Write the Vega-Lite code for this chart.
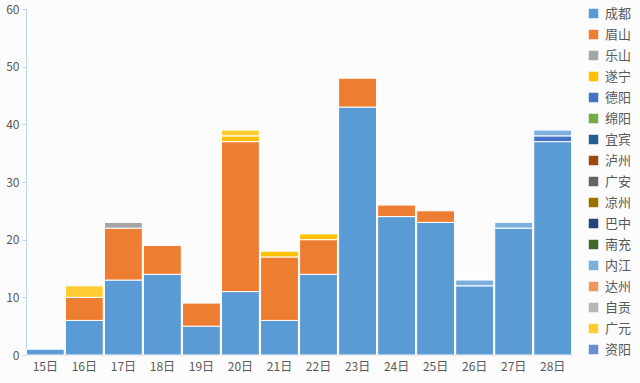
{
  "$schema": "https://vega.github.io/schema/vega-lite/v6.json",
  "width": 546,
  "height": 346,
  "autosize": "none",
  "padding": {"left": 26, "top": 9, "right": 68, "bottom": 28},
  "background": "#FCFCFC",
  "config": {"view": {"stroke": null}, "font": "Noto Sans CJK SC"},
  "data": {"values": [
    {"day": "15日", "city": "成都", "n": 1},
    {"day": "16日", "city": "成都", "n": 6},
    {"day": "16日", "city": "眉山", "n": 4},
    {"day": "16日", "city": "广元", "n": 2},
    {"day": "17日", "city": "成都", "n": 13},
    {"day": "17日", "city": "眉山", "n": 9},
    {"day": "17日", "city": "乐山", "n": 1},
    {"day": "18日", "city": "成都", "n": 14},
    {"day": "18日", "city": "眉山", "n": 5},
    {"day": "19日", "city": "成都", "n": 5},
    {"day": "19日", "city": "眉山", "n": 4},
    {"day": "20日", "city": "成都", "n": 11},
    {"day": "20日", "city": "眉山", "n": 26},
    {"day": "20日", "city": "遂宁", "n": 1},
    {"day": "20日", "city": "广元", "n": 1},
    {"day": "21日", "city": "成都", "n": 6},
    {"day": "21日", "city": "眉山", "n": 11},
    {"day": "21日", "city": "遂宁", "n": 1},
    {"day": "22日", "city": "成都", "n": 14},
    {"day": "22日", "city": "眉山", "n": 6},
    {"day": "22日", "city": "遂宁", "n": 1},
    {"day": "23日", "city": "成都", "n": 43},
    {"day": "23日", "city": "眉山", "n": 5},
    {"day": "24日", "city": "成都", "n": 24},
    {"day": "24日", "city": "眉山", "n": 2},
    {"day": "25日", "city": "成都", "n": 23},
    {"day": "25日", "city": "眉山", "n": 2},
    {"day": "26日", "city": "成都", "n": 12},
    {"day": "26日", "city": "内江", "n": 1},
    {"day": "27日", "city": "成都", "n": 22},
    {"day": "27日", "city": "内江", "n": 1},
    {"day": "28日", "city": "成都", "n": 37},
    {"day": "28日", "city": "德阳", "n": 1},
    {"day": "28日", "city": "内江", "n": 1}
  ]},
  "transform": [
    {"calculate": "indexof(['成都','眉山','乐山','遂宁','德阳','绵阳','宜宾','泸州','广安','凉州','巴中','南充','内江','达州','自贡','广元','资阳'], datum.city)", "as": "k"}
  ],
  "mark": {"type": "bar", "stroke": "#FFFFFF", "strokeWidth": 1},
  "encoding": {
    "x": {
      "field": "day", "type": "nominal", "title": null,
      "scale": {"paddingInner": 0.03, "paddingOuter": 0.01},
      "axis": {"labelAngle": 0, "ticks": false, "domainColor": "#D9D9D9", "labelColor": "#595959", "labelFontSize": 12, "labelPadding": 6}
    },
    "y": {
      "field": "n", "type": "quantitative", "aggregate": "sum", "stack": "zero", "title": null,
      "scale": {"domain": [0, 60]},
      "axis": {"values": [0, 10, 20, 30, 40, 50, 60], "grid": false, "domainColor": "#BDD7EE", "tickColor": "#BDD7EE", "tickSize": 4, "labelColor": "#595959", "labelFontSize": 12, "labelPadding": 3}
    },
    "order": {"field": "k", "type": "quantitative"},
    "color": {
      "field": "city", "type": "nominal",
      "scale": {
        "domain": ["成都","眉山","乐山","遂宁","德阳","绵阳","宜宾","泸州","广安","凉州","巴中","南充","内江","达州","自贡","广元","资阳"],
        "range": ["#5B9BD5","#ED7D31","#A5A5A5","#FFC000","#4472C4","#70AD47","#255E91","#9E480E","#636363","#997300","#264478","#43682B","#7CAFDD","#F1975A","#B7B7B7","#FFCD33","#698ED0"]
      },
      "legend": {
        "title": null, "orient": "none", "legendX": 561, "legendY": -2,
        "symbolType": "square", "symbolSize": 90, "symbolStrokeWidth": 0,
        "labelFontSize": 13, "labelColor": "#595959", "rowPadding": 7, "labelOffset": 5
      }
    }
  }
}
